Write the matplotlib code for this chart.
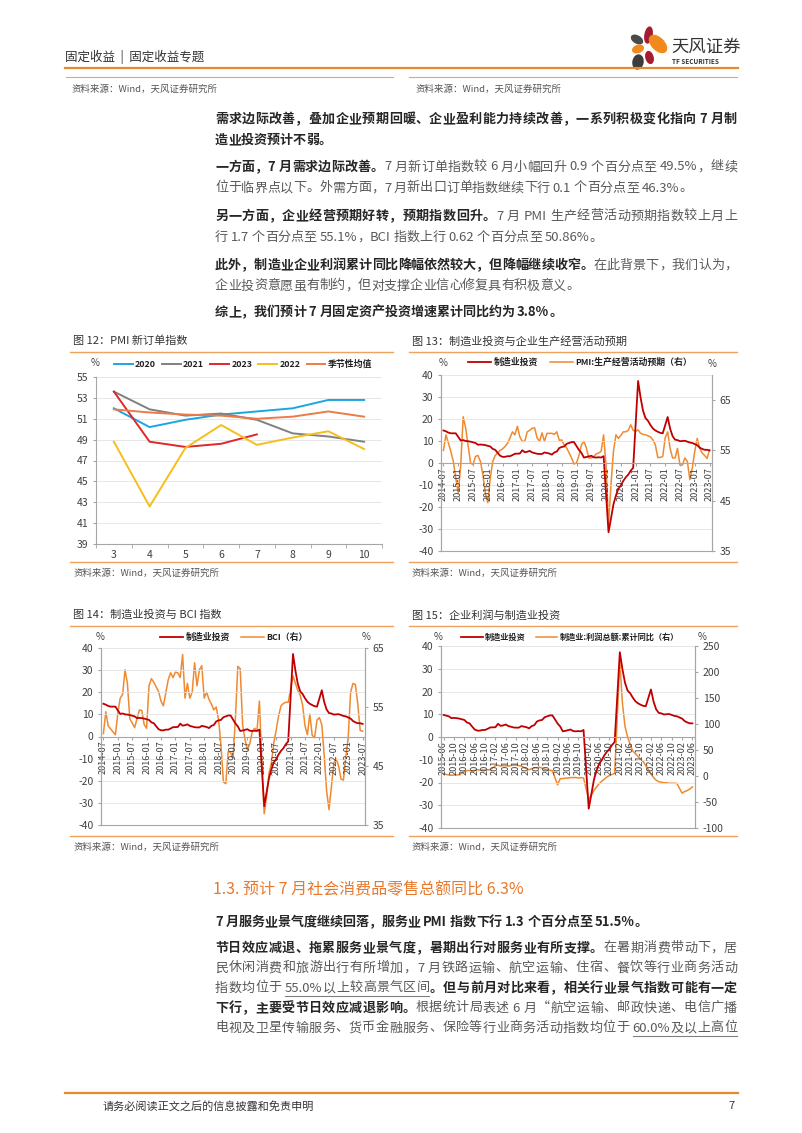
import re
import matplotlib
matplotlib.use('Agg')
import matplotlib.pyplot as plt
import numpy as np
from matplotlib.lines import Line2D
from matplotlib.patches import Ellipse

plt.rcParams['font.family'] = ['Noto Sans CJK SC', 'DejaVu Sans']
plt.rcParams['axes.unicode_minus'] = False

W, H = 802, 1133

# ---- 图12 PMI 新订单指数 ----
pmi_month = [3, 4, 5, 6, 7, 8, 9, 10]
pmi_2020 = [52.0, 50.2, 50.9, 51.4, 51.7, 52.0, 52.8, 52.8]
pmi_2021 = [53.6, 51.9, 51.3, 51.5, 50.9, 49.6, 49.3, 48.8]
pmi_2023 = [53.6, 48.8, 48.3, 48.6, 49.5]
pmi_2022 = [48.8, 42.6, 48.2, 50.4, 48.5, 49.2, 49.8, 48.1]
pmi_season = [51.9, 51.6, 51.4, 51.3, 51.0, 51.2, 51.7, 51.2]

# ---- 制造业投资 累计同比, 2014-07 ~ 2023-07 (1月无数据) ----
mfg_inv = [14.8, 14.4, 13.8, 13.5, 13.5, 13.5,
           None, 10.2, 10.4, 10.0, 9.9, 9.7, 9.4, 9.1, 8.3, 8.4, 8.3, 8.1,
           None, 7.5, 6.4, 6.0, 4.6, 3.3, 2.8, 2.8, 3.1, 3.1, 3.6, 4.2,
           None, 4.3, 5.8, 4.9, 5.1, 5.5, 4.8, 4.5, 4.2, 4.1, 4.1, 4.8,
           None, 4.3, 3.8, 4.8, 5.2, 6.8, 7.3, 7.5, 8.7, 9.1, 9.5, 9.5,
           None, 5.9, 4.6, 2.5, 2.7, 3.0, 3.3, 2.6, 2.5, 2.6, 2.5, 3.1,
           None, -31.5, -25.2, -18.8, -14.8, -11.7, -10.2, -8.1, -6.5, -5.3, -3.5, -2.2,
           None, 37.3, 29.8, 23.8, 20.4, 19.2, 17.3, 15.7, 14.8, 14.2, 13.7, 13.5,
           None, 20.9, 15.6, 12.2, 10.6, 10.4, 9.9, 10.0, 10.1, 9.7, 9.3, 9.1,
           None, 8.1, 7.0, 6.4, 6.0, 6.0, 5.7]

# PMI:生产经营活动预期, 2014-07 ~ 2023-07
pmi_exp = [55.0, 58.1, 56.5, 54.8, 52.8, 49.5, 46.5, 52.0, 61.7, 59.5,
           56.0, 52.5, 52.2, 53.8, 54.0, 52.8, 50.2, 46.5, 44.6, 49.5,
           52.8, 54.0, 54.5, 55.0, 55.3, 55.8, 56.4, 57.5, 58.7, 58.1,
           59.8, 57.7, 56.8, 56.8, 58.7, 59.0, 59.4, 59.5, 57.5, 56.8,
           58.5, 56.8, 58.4, 58.4, 58.4, 58.2, 58.7, 57.0, 57.1, 56.1,
           55.5, 54.5, 53.5, 52.3, 52.5, 54.0, 56.1, 56.8, 55.5, 53.5,
           53.5, 53.8, 54.3, 54.5, 54.8, 58.1, 52.0, 40.3, 48.2, 54.8,
           58.1, 57.4, 58.0, 58.7, 58.7, 59.0, 60.1, 59.0, 58.8, 59.1,
           58.4, 58.2, 58.1, 57.9, 57.7, 57.1, 56.1, 53.6, 53.6, 53.8,
           57.5, 58.7, 55.4, 53.5, 53.5, 55.4, 52.1, 52.1, 53.5, 52.8,
           49.2, 51.5, 54.8, 57.4, 55.4, 54.5, 54.0, 53.4, 55.1]

# BCI, 2014-07 ~ 2023-07
bci = [50.5, 54.2, 51.8, 51.3, 50.8, 50.3, 53.9, 56.5, 57.1, 61.3,
       59.0, 53.0, 52.3, 51.5, 53.0, 54.5, 54.4, 52.0, 51.4, 58.6,
       59.8, 59.2, 58.4, 57.6, 56.0, 55.2, 57.4, 59.6, 60.8, 60.0,
       60.9, 60.8, 60.0, 63.9, 56.5, 59.0, 56.5, 57.5, 62.5, 58.6,
       61.3, 62.0, 56.5, 57.5, 56.3, 55.5, 54.5, 55.0, 52.8, 48.5,
       42.3, 42.0, 47.5, 47.3, 46.3, 53.0, 61.9, 61.5, 52.0, 49.5,
       47.7, 48.8, 50.8, 51.4, 51.0, 56.0, 46.0, 36.9, 39.8, 43.8,
       45.5, 48.9, 51.1, 53.5, 55.2, 55.6, 55.8, 55.8, 58.0, 60.3,
       59.0, 57.8, 57.0, 55.3, 51.8, 50.3, 53.8, 50.2, 49.8, 52.8,
       53.2, 52.0, 46.8, 40.8, 37.6, 41.5, 45.5, 46.2, 45.0, 42.8,
       42.6, 46.5, 49.8, 57.5, 59.0, 58.8, 55.5, 51.0, 50.9]

# 制造业:利润总额:累计同比, 2015-06 ~ 2023-06
mfg_profit = [4.5, 3.0, 2.0, 1.5, 2.0, 2.0, 2.5,
              None, 8.0, 10.5, 10.5, 9.5, 11.0, 12.0, 11.5, 11.5, 11.5, 12.0, 12.0,
              None, 20.0, 21.0, 19.0, 20.0, 20.0, 19.0, 20.0, 21.0, 21.0, 20.0, 19.0,
              None, 14.0, 12.0, 14.0, 16.0, 16.0, 17.0, 15.0, 13.0, 12.0, 11.0, 10.0,
              None, -17.0, -5.0, -5.0, -4.0, -4.0, -3.0, -3.0, -3.0, -4.0, -3.0, -4.0,
              None, -45.0, -37.0, -28.0, -21.0, -15.0, -10.0, -6.0, -2.0, 1.0, 3.0, 5.0,
              None, 220.0, 140.0, 95.0, 75.0, 60.0, 48.0, 43.0, 38.0, 32.0, 28.0, 20.0,
              None, 4.0, -3.0, -8.0, -11.0, -12.0, -13.0, -13.0, -14.0, -14.0, -14.0, -14.0,
              None, -33.0, -30.0, -28.0, -25.0, -21.0]

ticks_6m = ['2014-07', '2015-01', '2015-07', '2016-01', '2016-07', '2017-01', '2017-07',
            '2018-01', '2018-07', '2019-01', '2019-07', '2020-01', '2020-07', '2021-01',
            '2021-07', '2022-01', '2022-07', '2023-01', '2023-07']
ticks_4m = ['2015-06', '2015-10', '2016-02', '2016-06', '2016-10', '2017-02', '2017-06',
            '2017-10', '2018-02', '2018-06', '2018-10', '2019-02', '2019-06', '2019-10',
            '2020-02', '2020-06', '2020-10', '2021-02', '2021-06', '2021-10', '2022-02',
            '2022-06', '2022-10', '2023-02', '2023-06']

RED = '#C00000'
ORG = '#F08A30'
LINE_OR = '#EFA35F'
GRID = '#E3E3E3'
SPINE = '#A6A6A6'
TXT = '#404040'

fig = plt.figure(figsize=(W / 100, H / 100), dpi=100)
fig.patch.set_facecolor('white')
rend = fig.canvas.get_renderer()


def px(l, t, r, b):
    return [l / W, 1 - b / H, (r - l) / W, (b - t) / H]


def ftext(x, y, s, **kw):
    return fig.text(x / W, 1 - y / H, s, **kw)


def hline(x0, x1, y, color=LINE_OR, lw=1.0):
    fig.add_artist(Line2D([x0 / W, x1 / W], [1 - y / H, 1 - y / H], color=color, lw=lw))


def series(vals):
    x = [i for i, v in enumerate(vals) if v is not None]
    y = [v for v in vals if v is not None]
    return x, y


# ---- 页眉 ----
ftext(65, 57, '固定收益  |  固定收益专题', fontsize=9, color='#333333', va='center')
hline(65, 738, 68, color='#E8892E', lw=1.6)
hline(66, 393, 77, lw=0.8)
hline(409, 737, 77, lw=0.8)
ftext(72, 89, '资料来源：Wind，天风证券研究所', fontsize=6.8, color='#555555', va='center')
ftext(416, 89, '资料来源：Wind，天风证券研究所', fontsize=6.8, color='#555555', va='center')

lg = fig.add_axes(px(628, 24, 672, 72))
lg.set_xlim(628, 672)
lg.set_ylim(72, 24)
lg.axis('off')
for cx, cy, w, h, ang, c in [(648.5, 35, 7, 16, 10, '#A51C30'), (658, 44, 12, 21, -45, '#F08A1C'),
                             (637, 39.5, 12, 7, 30, '#4A4A4A'), (638, 49, 11, 7, -20, '#F08A1C'),
                             (649.5, 57.5, 7, 12, -15, '#A51C30'), (638, 62, 10, 14, 10, '#3C3C3C')]:
    lg.add_patch(Ellipse((cx, cy), w, h, angle=ang, color=c))
ftext(671, 47, '天风证券', fontsize=12.5, color='#333333', va='center')
ftext(672, 62, 'TF SECURITIES', fontsize=4.6, color='#333333', va='center', fontweight='bold')


# ---- 正文 ----
def tokens(s):
    return re.findall(r'[A-Za-z0-9.%]+| |.', s)


def draw_line(y, segs, size, justify, L=215, R=737):
    items = []
    for text, st in segs:
        for tk in tokens(text):
            bold = st == 'b'
            col = '#262626' if bold else '#595959'
            t = ftext(0, y, tk, fontsize=size, fontweight='bold' if bold else 'normal',
                      color=col, va='center', ha='left')
            wdt = t.get_window_extent(rend).width
            if tk == ' ':
                wdt = size * 0.3
            items.append((t, wdt, st))
    total = sum(i[1] for i in items)
    gap = (R - L - total) / (len(items) - 1) if justify and len(items) > 1 else 0
    x = L
    ux = None
    for t, wdt, st in items:
        t.set_x(x / W)
        if st == 'u':
            if ux is None:
                ux = x
            uend = x + wdt
        x += wdt + gap
    if ux is not None:
        hline(ux, uend, y + 8, color='#808080', lw=0.8)


FS = 9.4
para = [
    (119, [('需求边际改善，叠加企业预期回暖、企业盈利能力持续改善，一系列积极变化指向 7 月制', 'b')], True),
    (140, [('造业投资预计不弱。', 'b')], False),
    (167, [('一方面，7 月需求边际改善。', 'b'), ('7 月新订单指数较 6 月小幅回升 0.9 个百分点至 49.5%，继续', 'r')], True),
    (188, [('位于临界点以下。外需方面，7 月新出口订单指数继续下行 0.1 个百分点至 46.3%。', 'r')], False),
    (216, [('另一方面，企业经营预期好转，预期指数回升。', 'b'), ('7 月 PMI 生产经营活动预期指数较上月上', 'r')], True),
    (237, [('行 1.7 个百分点至 55.1%，BCI 指数上行 0.62 个百分点至 50.86%。', 'r')], False),
    (265, [('此外，制造业企业利润累计同比降幅依然较大，但降幅继续收窄。', 'b'), ('在此背景下，我们认为，', 'r')], True),
    (286, [('企业投资意愿虽有制约，但对支撑企业信心修复具有积极意义。', 'r')], False),
    (312, [('综上，我们预计 7 月固定资产投资增速累计同比约为 3.8%。', 'b')], False),
    (922, [('7 月服务业景气度继续回落，服务业 PMI 指数下行 1.3 个百分点至 51.5%。', 'b')], False),
    (948, [('节日效应减退、拖累服务业景气度，暑期出行对服务业有所支撑。', 'b'), ('在暑期消费带动下，居', 'r')], True),
    (968, [('民休闲消费和旅游出行有所增加，7 月铁路运输、航空运输、住宿、餐饮等行业商务活动', 'r')], True),
    (988, [('指数均位于 ', 'r'), ('55.0%以上较高景气区间', 'u'), ('。但与前月对比来看，相关行业景气指数可能有一定', 'b')], True),
    (1008, [('下行，主要受节日效应减退影响。', 'b'), ('根据统计局表述 6 月“航空运输、邮政快递、电信广播', 'r')], True),
    (1028, [('电视及卫星传输服务、货币金融服务、保险等行业商务活动指数均位于 ', 'r'), ('60.0%及以上高位', 'u')], True),
]
for y, segs, just in para:
    draw_line(y, segs, FS, just)

ftext(213, 890, '1.3. 预计 7 月社会消费品零售总额同比 6.3%', fontsize=11.5, color='#E8792C', va='center')

# ---- 页脚 ----
hline(65, 738, 1093, color='#E8892E', lw=1.6)
ftext(103, 1106, '请务必阅读正文之后的信息披露和免责申明', fontsize=8, color='#333333', va='center')
ftext(728, 1106, '7', fontsize=8, color='#333333', va='center')


# ---- 图框 ----
def frame(x0, x1, ytitle, ybot, title):
    ftext(x0 + 3, ytitle, title, fontsize=8, color='#333333', va='center')
    hline(x0, x1, ytitle + 11, lw=1.0)
    hline(x0, x1, ybot, lw=1.0)
    ftext(x0 + 3, ybot + 11, '资料来源：Wind，天风证券研究所', fontsize=6.8, color='#555555', va='center')


frame(70, 393, 341, 562, '图 12：PMI 新订单指数')
frame(409, 737, 341, 562, '图 13：制造业投资与企业生产经营活动预期')
frame(70, 393, 615, 836, '图 14：制造业投资与 BCI 指数')
frame(409, 737, 615, 836, '图 15：企业利润与制造业投资')

LEG = dict(frameon=False, handletextpad=0.25, prop={'size': 6.4, 'weight': 'bold'}, labelcolor='#222222')

# ---- 图12 ----
ax = fig.add_axes(px(96, 377, 382, 544))
ax.plot(pmi_month, pmi_2020, color='#1AA7E0', lw=1.4, label='2020')
ax.plot(pmi_month, pmi_2021, color='#808080', lw=1.4, label='2021')
ax.plot(pmi_month[:len(pmi_2023)], pmi_2023, color='#E0262B', lw=1.4, label='2023')
ax.plot(pmi_month, pmi_2022, color='#F6BE1A', lw=1.4, label='2022')
ax.plot(pmi_month, pmi_season, color='#EC7B4A', lw=1.4, label='季节性均值')
ax.set_xlim(2.5, 10.5)
ax.set_ylim(39, 55)
ax.set_yticks(np.arange(39, 56, 2))
ax.set_xticks(pmi_month)
ax.set_xticks(np.arange(2.5, 10.6, 1), minor=True)
ax.tick_params(axis='x', which='major', length=0, labelsize=7.5, colors=TXT, pad=4)
ax.tick_params(axis='x', which='minor', length=3, color=SPINE)
ax.tick_params(axis='y', length=2, labelsize=7.5, colors=TXT, color=SPINE)
ax.grid(axis='y', color=GRID, lw=0.6)
ax.set_axisbelow(True)
for s in ['top', 'right']:
    ax.spines[s].set_visible(False)
for s in ['left', 'bottom']:
    ax.spines[s].set_color(SPINE)
ftext(95, 363, '%', fontsize=7, color=TXT, va='center', ha='center')
ax.legend(loc='center', bbox_to_anchor=(243 / W, 1 - 364 / H), bbox_transform=fig.transFigure,
          ncol=5, handlelength=2.1, columnspacing=0.7, **LEG)


# ---- 双轴时间序列 ----
def ts_chart(rect, left_vals, right_vals, n, ticks_every, tick_labels, rlim, rticks, lab_l, lab_r,
             leg_xy, pct_l, pct_r, legsize=6.4):
    a = fig.add_axes(px(*rect))
    b = a.twinx()
    xl, yl = series(left_vals)
    xr, yr = series(right_vals)
    b.plot(xr, yr, color=ORG, lw=1.1, label=lab_r)
    a.plot(xl, yl, color=RED, lw=1.3, label=lab_l)
    a.set_zorder(b.get_zorder() + 1)
    a.patch.set_visible(False)
    a.set_xlim(-1, n)
    a.set_ylim(-40, 40)
    a.set_yticks(np.arange(-40, 41, 10))
    b.set_ylim(*rlim)
    b.set_yticks(rticks)
    a.set_xticks(np.arange(0, n, ticks_every))
    a.set_xticklabels(tick_labels)
    a.spines['bottom'].set_position(('data', 0))
    a.tick_params(axis='x', length=2, pad=1, labelsize=6.6, colors=TXT, color=SPINE, labelrotation=90)
    a.tick_params(axis='y', length=2, labelsize=7.5, colors=TXT, color=SPINE)
    b.tick_params(axis='y', length=2, labelsize=7.5, colors=TXT, color=SPINE)
    for yy in np.arange(-40, 41, 10):
        a.axhline(yy, color=GRID, lw=0.6, zorder=0)
    for ax_ in (a, b):
        ax_.spines['top'].set_visible(False)
        for s in ['left', 'right', 'bottom']:
            ax_.spines[s].set_color(SPINE)
    h1, l1 = a.get_legend_handles_labels()
    h2, l2 = b.get_legend_handles_labels()
    leg = dict(LEG)
    leg['prop'] = {'size': legsize, 'weight': 'bold'}
    a.legend(h1 + h2, l1 + l2, loc='center', bbox_to_anchor=(leg_xy[0] / W, 1 - leg_xy[1] / H),
             bbox_transform=fig.transFigure, ncol=2, handlelength=2.6, columnspacing=1.3, **leg)
    ftext(pct_l[0], pct_l[1], '%', fontsize=7, color=TXT, va='center', ha='center')
    ftext(pct_r[0], pct_r[1], '%', fontsize=7, color=TXT, va='center', ha='center')


ts_chart((441, 375, 712, 551), mfg_inv, pmi_exp, len(mfg_inv), 6, ticks_6m, (35, 70),
         [35, 45, 55, 65], '制造业投资', 'PMI:生产经营活动预期（右）', (580, 362), (443, 363), (712, 364))
ts_chart((101, 648, 365, 825), mfg_inv, bci, len(mfg_inv), 6, ticks_6m, (35, 65),
         [35, 45, 55, 65], '制造业投资', 'BCI（右）', (234, 637), (100, 637), (366, 637))
ts_chart((441, 646, 695, 828), mfg_inv[11:108], mfg_profit, len(mfg_profit), 4, ticks_4m, (-100, 250),
         np.arange(-100, 251, 50), '制造业投资', '制造业:利润总额:累计同比（右）', (570, 637),
         (438, 637), (702, 637), legsize=5.9)

fig.savefig('out.png', dpi=100)
